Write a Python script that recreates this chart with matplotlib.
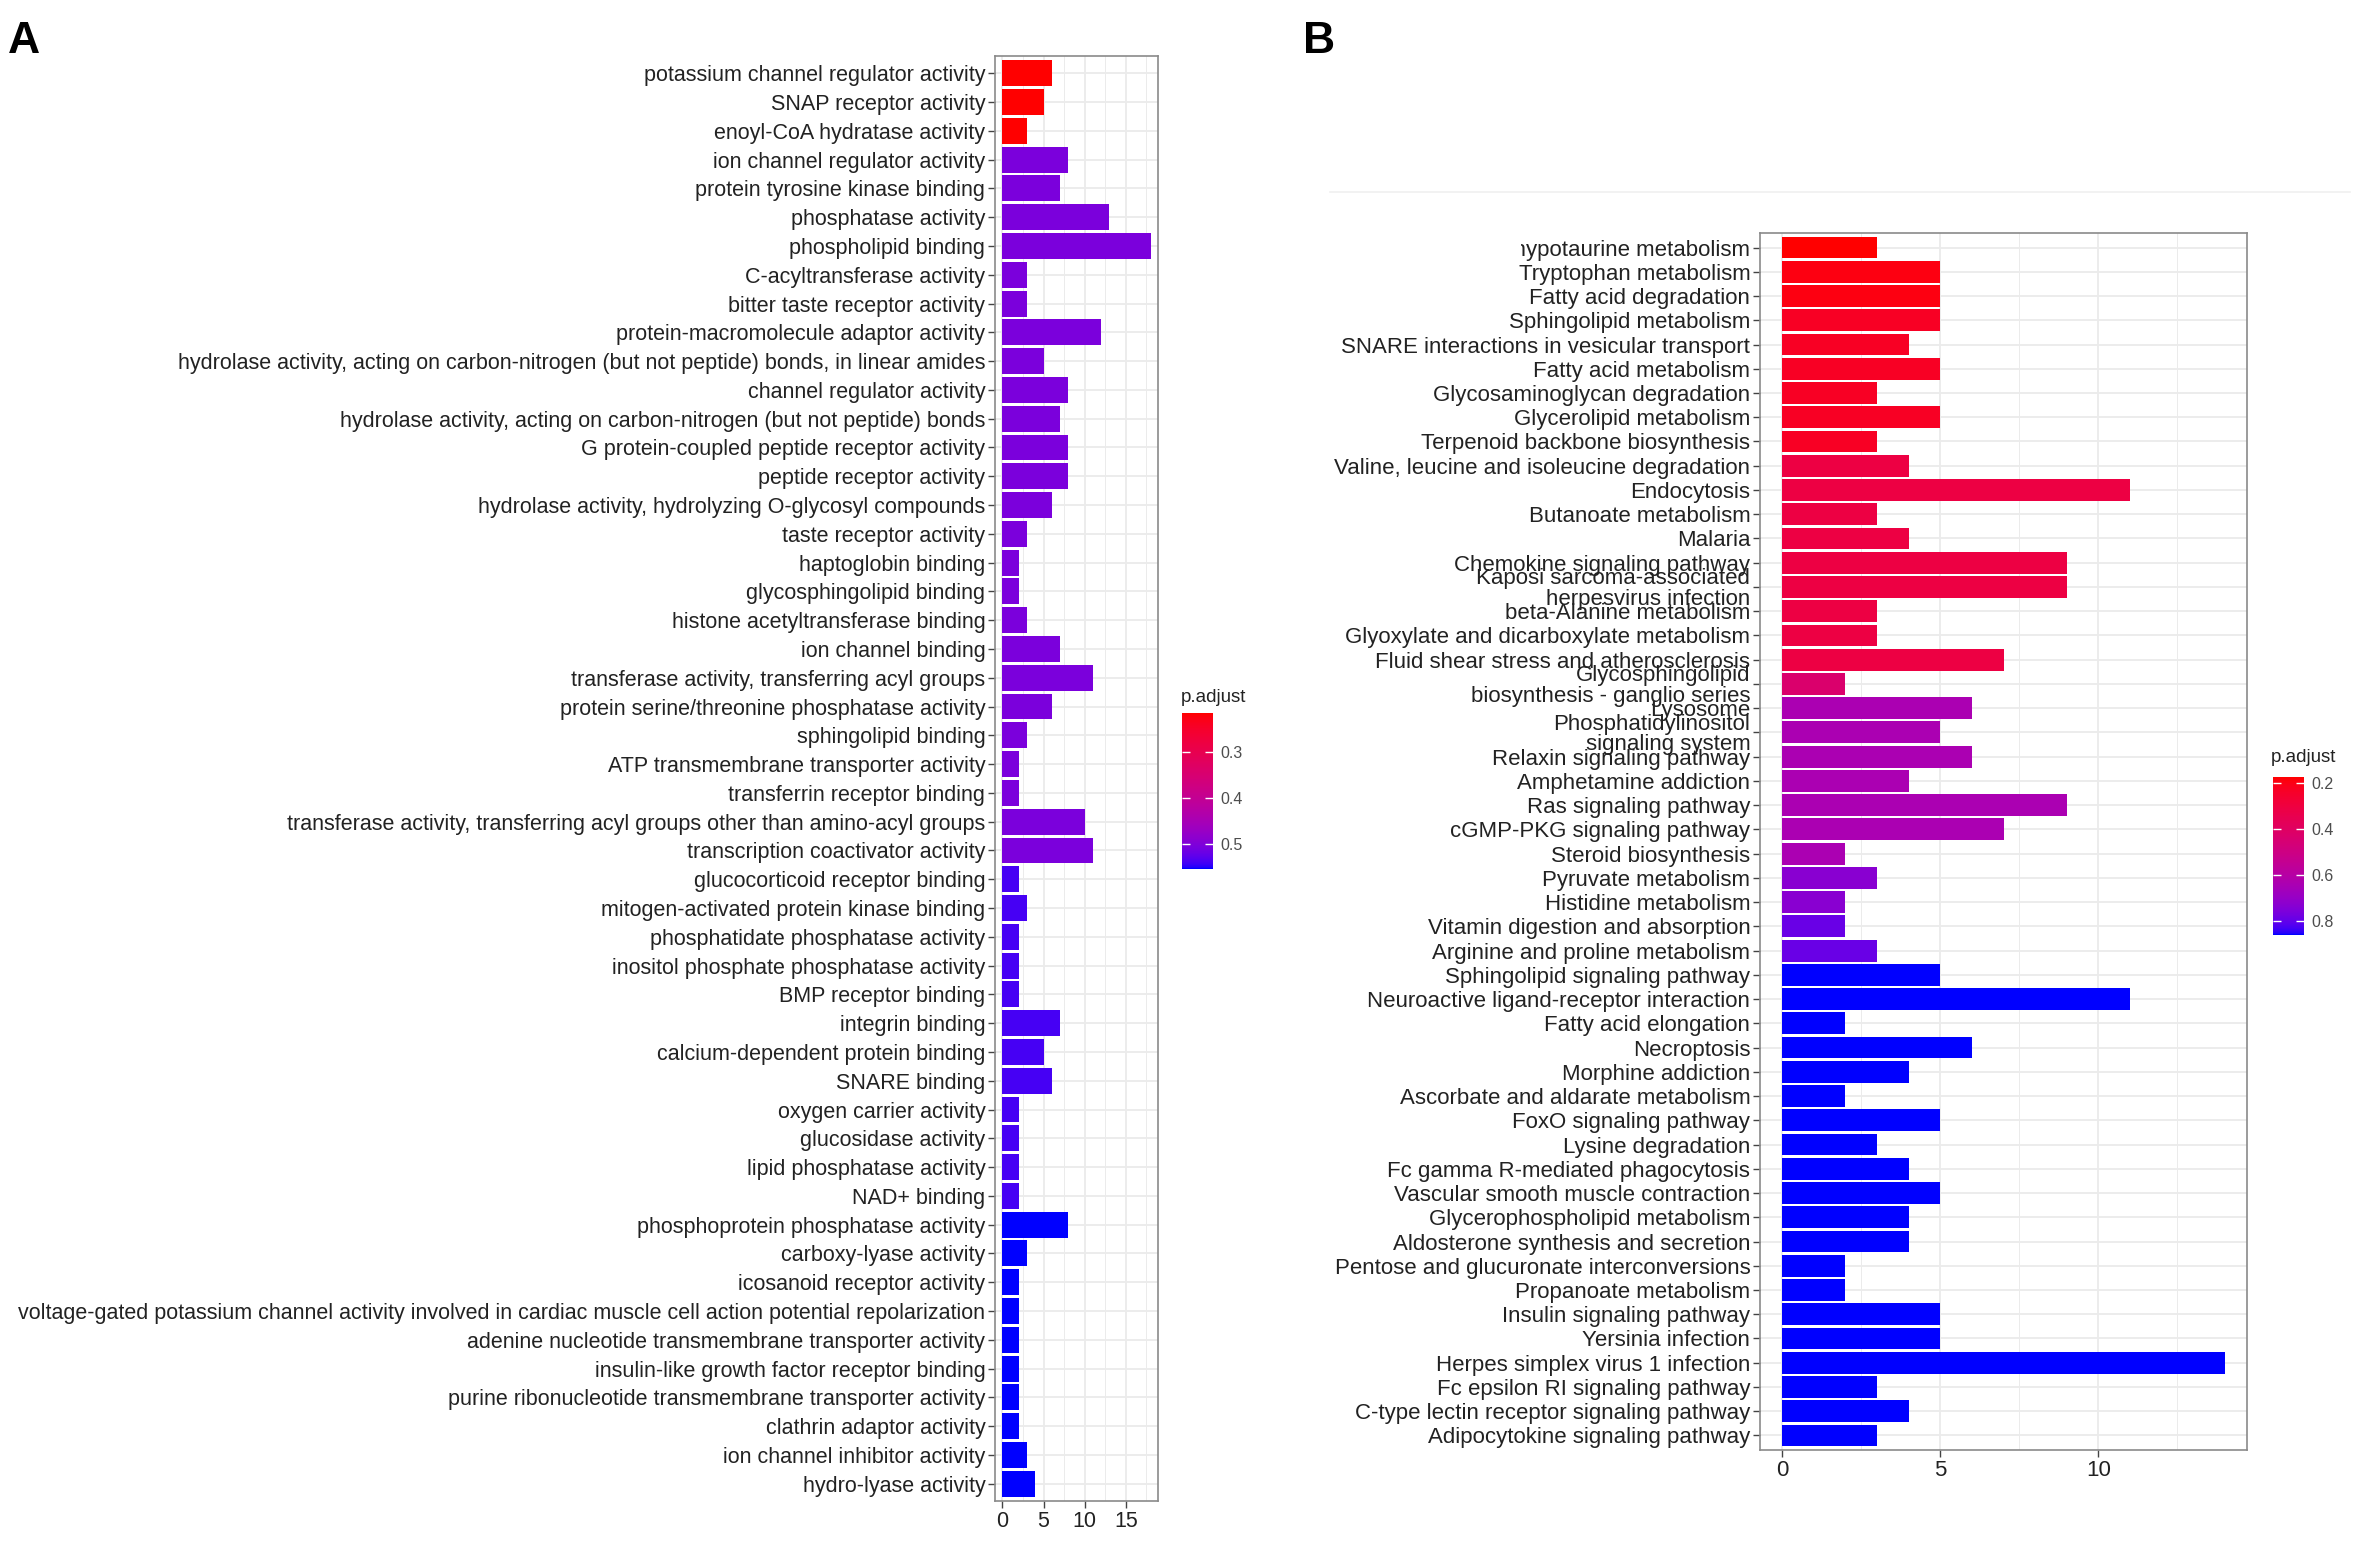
import numpy as np
import matplotlib
matplotlib.use("Agg")
import matplotlib.pyplot as plt
from matplotlib.colors import ListedColormap, Normalize
from matplotlib.cm import ScalarMappable
from matplotlib.patches import Rectangle
from matplotlib.lines import Line2D

plt.rcParams['font.family'] = ['Liberation Sans', 'DejaVu Sans']

# ---- panel A: GO terms ----
go_terms = [
    "potassium channel regulator activity", "SNAP receptor activity",
    "enoyl-CoA hydratase activity", "ion channel regulator activity",
    "protein tyrosine kinase binding", "phosphatase activity",
    "phospholipid binding", "C-acyltransferase activity",
    "bitter taste receptor activity", "protein-macromolecule adaptor activity",
    "hydrolase activity, acting on carbon-nitrogen (but not peptide) bonds, in linear amides",
    "channel regulator activity",
    "hydrolase activity, acting on carbon-nitrogen (but not peptide) bonds",
    "G protein-coupled peptide receptor activity", "peptide receptor activity",
    "hydrolase activity, hydrolyzing O-glycosyl compounds", "taste receptor activity",
    "haptoglobin binding", "glycosphingolipid binding",
    "histone acetyltransferase binding", "ion channel binding",
    "transferase activity, transferring acyl groups",
    "protein serine/threonine phosphatase activity", "sphingolipid binding",
    "ATP transmembrane transporter activity", "transferrin receptor binding",
    "transferase activity, transferring acyl groups other than amino-acyl groups",
    "transcription coactivator activity", "glucocorticoid receptor binding",
    "mitogen-activated protein kinase binding", "phosphatidate phosphatase activity",
    "inositol phosphate phosphatase activity", "BMP receptor binding",
    "integrin binding", "calcium-dependent protein binding", "SNARE binding",
    "oxygen carrier activity", "glucosidase activity", "lipid phosphatase activity",
    "NAD+ binding", "phosphoprotein phosphatase activity", "carboxy-lyase activity",
    "icosanoid receptor activity",
    "voltage-gated potassium channel activity involved in cardiac muscle cell action potential repolarization",
    "adenine nucleotide transmembrane transporter activity",
    "insulin-like growth factor receptor binding",
    "purine ribonucleotide transmembrane transporter activity",
    "clathrin adaptor activity", "ion channel inhibitor activity", "hydro-lyase activity",
]
go_counts = [6, 5, 3, 8, 7, 13, 18, 3, 3, 12,
             5, 8, 7, 8, 8, 6, 3, 2, 2, 3,
             7, 11, 6, 3, 2, 2, 10, 11, 2, 3,
             2, 2, 2, 7, 5, 6, 2, 2, 2, 2,
             8, 3, 2, 2, 2, 2, 2, 2, 3, 4]
go_padj = [0.215, 0.215, 0.215, 0.505, 0.505, 0.505, 0.505, 0.505, 0.505, 0.505,
           0.505, 0.505, 0.505, 0.505, 0.505, 0.505, 0.505, 0.505, 0.505, 0.505,
           0.505, 0.505, 0.505, 0.505, 0.505, 0.505, 0.505, 0.505, 0.539, 0.539,
           0.539, 0.539, 0.539, 0.539, 0.539, 0.539, 0.539, 0.539, 0.539, 0.539,
           0.554, 0.554, 0.554, 0.554, 0.554, 0.554, 0.554, 0.554, 0.554, 0.554]

# ---- panel B: KEGG pathways ----
kegg_terms = [
    "Taurine and hypotaurine metabolism", "Tryptophan metabolism",
    "Fatty acid degradation", "Sphingolipid metabolism",
    "SNARE interactions in vesicular transport", "Fatty acid metabolism",
    "Glycosaminoglycan degradation", "Glycerolipid metabolism",
    "Terpenoid backbone biosynthesis", "Valine, leucine and isoleucine degradation",
    "Endocytosis", "Butanoate metabolism", "Malaria", "Chemokine signaling pathway",
    "Kaposi sarcoma-associated\nherpesvirus infection", "beta-Alanine metabolism",
    "Glyoxylate and dicarboxylate metabolism", "Fluid shear stress and atherosclerosis",
    "Glycosphingolipid\nbiosynthesis - ganglio series", "Lysosome",
    "Phosphatidylinositol\nsignaling system", "Relaxin signaling pathway",
    "Amphetamine addiction", "Ras signaling pathway", "cGMP-PKG signaling pathway",
    "Steroid biosynthesis", "Pyruvate metabolism", "Histidine metabolism",
    "Vitamin digestion and absorption", "Arginine and proline metabolism",
    "Sphingolipid signaling pathway", "Neuroactive ligand-receptor interaction",
    "Fatty acid elongation", "Necroptosis", "Morphine addiction",
    "Ascorbate and aldarate metabolism", "FoxO signaling pathway", "Lysine degradation",
    "Fc gamma R-mediated phagocytosis", "Vascular smooth muscle contraction",
    "Glycerophospholipid metabolism", "Aldosterone synthesis and secretion",
    "Pentose and glucuronate interconversions", "Propanoate metabolism",
    "Insulin signaling pathway", "Yersinia infection", "Herpes simplex virus 1 infection",
    "Fc epsilon RI signaling pathway", "C-type lectin receptor signaling pathway",
    "Adipocytokine signaling pathway",
]
kegg_counts = [3, 5, 5, 5, 4, 5, 3, 5, 3, 4,
               11, 3, 4, 9, 9, 3, 3, 7, 2, 6,
               5, 6, 4, 9, 7, 2, 3, 2, 2, 3,
               5, 11, 2, 6, 4, 2, 5, 3, 4, 5,
               4, 4, 2, 2, 5, 5, 14, 3, 4, 3]
kegg_padj = [0.175, 0.195, 0.195, 0.23, 0.23, 0.23, 0.23, 0.23, 0.23, 0.31,
             0.31, 0.31, 0.31, 0.31, 0.31, 0.31, 0.31, 0.31, 0.43, 0.64,
             0.64, 0.64, 0.64, 0.64, 0.64, 0.64, 0.73, 0.73, 0.79, 0.79,
             0.86, 0.86, 0.86, 0.86, 0.86, 0.86, 0.86, 0.86, 0.86, 0.86,
             0.86, 0.86, 0.86, 0.86, 0.86, 0.86, 0.86, 0.86, 0.86, 0.86]


# red -> blue ramp interpolated in CIELAB, like ggplot's gradient
M = np.array([[0.4124, 0.3576, 0.1805],
              [0.2126, 0.7152, 0.0722],
              [0.0193, 0.1192, 0.9505]])
WHITE = np.array([0.95047, 1.0, 1.08883])


def srgb_to_lab(c):
    c = np.asarray(c, float)
    lin = np.where(c > 0.04045, ((c + 0.055) / 1.055) ** 2.4, c / 12.92)
    xyz = M @ lin / WHITE
    f = np.where(xyz > 0.008856, np.cbrt(xyz), 7.787 * xyz + 16 / 116)
    return np.array([116 * f[1] - 16, 500 * (f[0] - f[1]), 200 * (f[1] - f[2])])


def lab_to_srgb(lab):
    fy = (lab[:, 0] + 16) / 116
    fx = fy + lab[:, 1] / 500
    fz = fy - lab[:, 2] / 200
    f = np.stack([fx, fy, fz], axis=1)
    xyz = np.where(f > 0.2069, f ** 3, (f - 16 / 116) / 7.787) * WHITE
    lin = np.clip(xyz @ np.linalg.inv(M).T, 0, 1)
    return np.where(lin > 0.0031308, 1.055 * lin ** (1 / 2.4) - 0.055, 12.92 * lin)


t = np.linspace(0, 1, 256)[:, None]
lab0, lab1 = srgb_to_lab([1, 0, 0]), srgb_to_lab([0, 0, 1])
cmap = ListedColormap(lab_to_srgb(lab0 + (lab1 - lab0) * t))

W, H = 2360, 1541
fig = plt.figure(figsize=(W / 100, H / 100), dpi=100)


def px(x0, y0, x1, y1):
    return [x0 / W, 1 - y1 / H, (x1 - x0) / W, (y1 - y0) / H]


def panel(rect, crect, terms, counts, padj, xticks, fs, cticks, title_xy):
    ax = fig.add_axes(px(*rect))
    n = len(terms)
    y = np.arange(n)
    norm = Normalize(min(padj), max(padj))
    ax.barh(y, counts, height=0.9, color=cmap(norm(padj)), zorder=3)
    top = max(counts)
    ax.set_xlim(-0.05 * top, 1.05 * top)
    ax.set_ylim(n - 0.4, -0.6)
    ax.set_yticks(y)
    ax.set_yticklabels(terms, fontsize=fs, color='#222222', linespacing=0.95,
                       multialignment='right')
    ax.set_xticks(xticks)
    ax.set_xticks(np.arange(2.5, top * 1.05, 5), minor=True)
    ax.tick_params(axis='both', which='major', length=5, width=1, color='#444444',
                   pad=2, labelsize=fs, labelcolor='#222222')
    ax.tick_params(axis='x', which='minor', length=0)
    ax.grid(True, which='major', color='#ebebeb', lw=1.3, zorder=0)
    ax.grid(True, which='minor', axis='x', color='#ebebeb', lw=0.7, zorder=0)
    ax.set_axisbelow(True)
    for s in ax.spines.values():
        s.set_color('#8a8a8a')
        s.set_linewidth(1.2)

    # legend bar: low p.adjust (red) on top, as in the ggplot guide
    cax = fig.add_axes(px(*crect))
    cb = fig.colorbar(ScalarMappable(norm=norm, cmap=cmap), cax=cax)
    cb.outline.set_visible(False)
    cb.set_ticks(cticks)
    cb.set_ticklabels([f"{v:.1f}" for v in cticks])
    cax.invert_yaxis()
    cax.tick_params(axis='y', direction='in', left=True, right=True, length=6,
                    width=1, color='white', labelsize=11.5, labelcolor='#4d4d4d', pad=5)
    fig.text(title_xy[0] / W, 1 - title_xy[1] / H, "p.adjust", fontsize=13.5,
             color='#222222', ha='left', va='center')
    return ax


panel((995, 56, 1158, 1501), (1182, 713, 1213, 869), go_terms, go_counts, go_padj,
      [0, 5, 10, 15], 15.5, [0.3, 0.4, 0.5], (1181, 697))
panel((1760, 233, 2247, 1450), (2273, 777, 2304, 935), kegg_terms, kegg_counts, kegg_padj,
      [0, 5, 10], 16, [0.2, 0.4, 0.6, 0.8], (2271, 758))

# faint line along the top of panel B and the clipped first label
fig.add_artist(Line2D([1330 / W, 2350 / W], [1 - 192 / H] * 2, color='#f0f0f0', lw=1.2))
fig.add_artist(Rectangle((1300 / W, 1 - 265 / H), 221 / W, 40 / H, transform=fig.transFigure,
                         facecolor='white', edgecolor='none', zorder=10))

fig.text(8 / W, 1 - 53 / H, "A", fontsize=32, fontweight='bold', va='baseline')
fig.text(1303 / W, 1 - 53 / H, "B", fontsize=32, fontweight='bold', va='baseline')

fig.savefig("out.png", dpi=100, facecolor='white')
